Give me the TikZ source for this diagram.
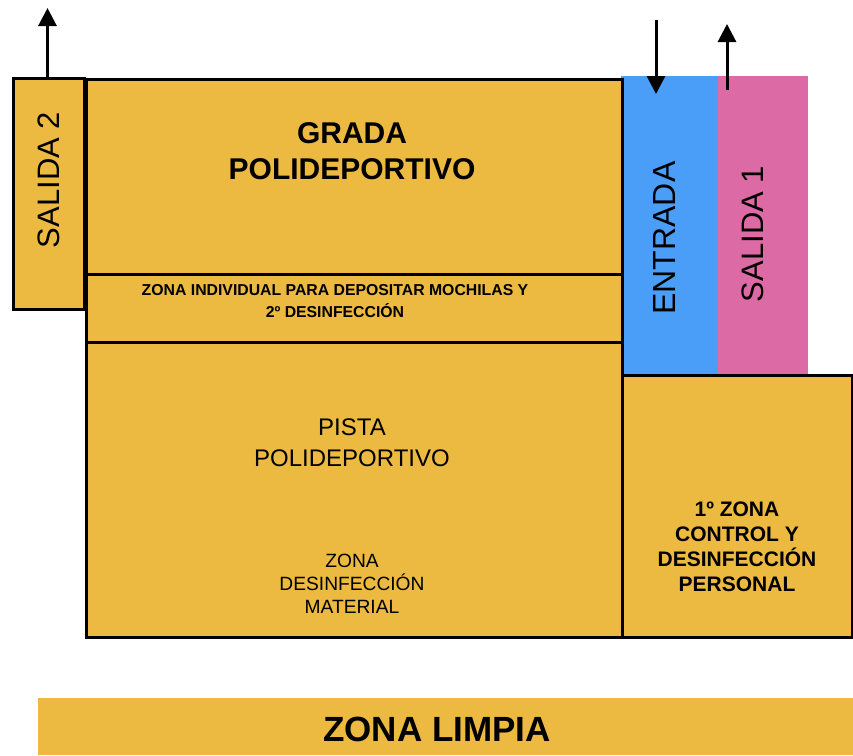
\documentclass[tikz,border=0pt]{standalone}
\usepackage{fontspec}
\setmainfont{Liberation Sans}
\usetikzlibrary{arrows.meta}
\definecolor{zonecol}{RGB}{236,186,65}
\definecolor{entcol}{RGB}{74,158,248}
\definecolor{salcol}{RGB}{220,106,164}
\tikzset{
  box/.style={draw=black, line width=3pt, fill=zonecol, inner sep=0pt, anchor=north west},
  plain/.style={inner sep=0pt, outer sep=0pt, anchor=north west},
  lbl/.style={align=center, inner sep=0pt, text=black},
  flow/.style={line width=3pt, -{Triangle[length=18pt,width=18pt]}},
}
\begin{document}
\begin{tikzpicture}[x=1pt,y=-1pt]
\useasboundingbox (0,0) rectangle (853,755);
% colored lanes
\node[plain, fill=entcol, minimum width=97pt, minimum height=298pt] (entrada) at (621,76) {};
\node[plain, fill=salcol, minimum width=90pt, minimum height=298pt] (salida1) at (718,76) {};
% boxes
\node[box, minimum width=71pt, minimum height=231pt] (salida2) at (12,77) {};
\node[box, minimum width=536pt, minimum height=195pt] (grada) at (85,78) {};
\node[box, minimum width=536pt, minimum height=68pt] (mochilas) at (85,273) {};
\node[box, minimum width=536pt, minimum height=295pt] (pista) at (85,341) {};
\node[box, minimum width=230pt, minimum height=262pt] (control) at (621,374) {};
\node[plain, fill=zonecol, minimum width=815pt, minimum height=57pt] (limpia) at (38,698) {};
% texts
\node[lbl, font=\bfseries\fontsize{30}{36}\selectfont] (tgrada) at (352,151) {GRADA\\POLIDEPORTIVO};
\node[lbl, font=\bfseries\fontsize{15.8}{22}\selectfont] (tmoch) at (335,301) {ZONA INDIVIDUAL PARA DEPOSITAR MOCHILAS Y\\2º DESINFECCIÓN};
\node[lbl, font=\fontsize{24}{31}\selectfont] (tpista) at (352,443) {PISTA\\POLIDEPORTIVO};
\node[lbl, font=\fontsize{19.2}{23}\selectfont] (tmat) at (352,584) {ZONA\\DESINFECCIÓN\\MATERIAL};
\node[lbl, font=\bfseries\fontsize{21}{25}\selectfont] (tcontrol) at (737,547) {1º ZONA\\CONTROL Y\\DESINFECCIÓN\\PERSONAL};
\node[lbl, font=\bfseries\fontsize{35}{40}\selectfont] (tlimpia) at (437,729) {ZONA LIMPIA};
\node[lbl, rotate=90, font=\fontsize{32}{36}\selectfont] (tentrada) at (664,238) {ENTRADA};
\node[lbl, rotate=90, font=\fontsize{31}{36}\selectfont] (tsal1) at (753,234) {SALIDA 1};
\node[lbl, rotate=90, font=\fontsize{31}{36}\selectfont] (tsal2) at (49,180) {SALIDA 2};
% arrows
\coordinate (s2top) at (47.5,8);
\coordinate (s2base) at (47.5,77);
\coordinate (entin) at (656,20);
\coordinate (entend) at (656,94);
\coordinate (s1start) at (727,90);
\coordinate (s1top) at (727,24);
\draw[flow] (s2base) -- (s2top);
\draw[flow] (entin) -- (entend);
\draw[flow] (s1start) -- (s1top);
\end{tikzpicture}
\end{document}
